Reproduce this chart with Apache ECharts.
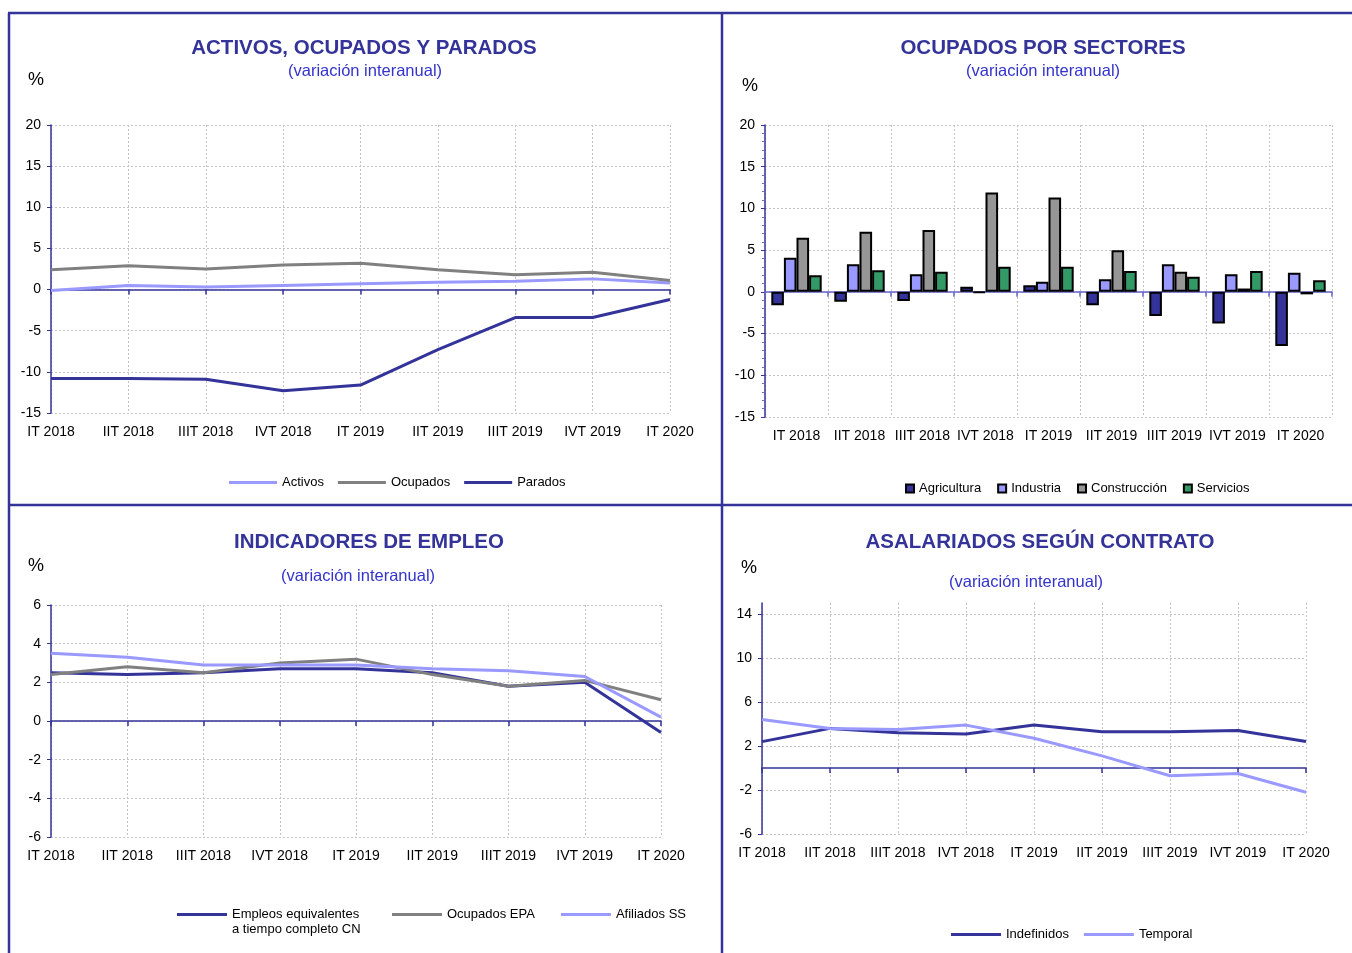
<!DOCTYPE html>
<html>
<head>
<meta charset="utf-8">
<script src="https://cdn.jsdelivr.net/npm/echarts@6/dist/echarts.min.js"></script>
<style>
html,body{margin:0;padding:0;background:#fff;}
#chart{width:1352px;height:953px;}
</style>
</head>
<body>
<div id="chart"></div>
<script>
// ---------- DATA ----------
const categories = ['IT 2018','IIT 2018','IIIT 2018','IVT 2018','IT 2019','IIT 2019','IIIT 2019','IVT 2019','IT 2020'];

// Panel 1: Activos, ocupados y parados
const activos  = [-0.1, 0.5, 0.3, 0.5, 0.7, 0.9, 1.0, 1.3, 0.8];
const ocupados = [2.4, 2.9, 2.5, 3.0, 3.2, 2.4, 1.8, 2.1, 1.1];
const parados  = [-10.8, -10.8, -10.9, -12.3, -11.6, -7.3, -3.4, -3.4, -1.2];

// Panel 2: Ocupados por sectores
const agricultura  = [-1.6, -1.2, -1.1, 0.6, 0.8, -1.6, -2.9, -3.8, -6.5];
const industria    = [4.1, 3.3, 2.1, -0.1, 1.2, 1.5, 3.3, 2.1, 2.3];
const construccion = [6.5, 7.2, 7.4, 11.9, 11.3, 5.0, 2.4, 0.4, -0.3];
const servicios    = [2.0, 2.6, 2.4, 3.0, 3.0, 2.5, 1.8, 2.5, 1.4];

// Panel 3: Indicadores de empleo
const empleosCN   = [2.5, 2.4, 2.5, 2.7, 2.7, 2.5, 1.8, 2.0, -0.6];
const ocupadosEPA = [2.4, 2.8, 2.5, 3.0, 3.2, 2.4, 1.8, 2.1, 1.1];
const afiliadosSS = [3.5, 3.3, 2.9, 2.9, 2.9, 2.7, 2.6, 2.3, 0.2];

// Panel 4: Asalariados según contrato
const indefinidos = [2.4, 3.6, 3.2, 3.1, 3.9, 3.3, 3.3, 3.4, 2.4];
const temporal    = [4.4, 3.6, 3.5, 3.9, 2.7, 1.1, -0.7, -0.5, -2.2];

// ---------- STYLE ----------
const FONT = '"Liberation Sans", Arial, sans-serif';
const DARK = '#333399', LIGHT = '#9999FF', GREY = '#808080';
const gridLine = {show:true, lineStyle:{color:'#c4c4c4', type:[2,2], width:1}};

function mainX(g, gap){
  return {type:'category', gridIndex:g, data:categories, boundaryGap:gap, position:'bottom',
    axisLine:{show:false, onZero:false}, axisTick:{show:false},
    axisLabel:{interval:0, fontSize:14, color:'#000', margin:12, fontFamily:FONT},
    splitLine:Object.assign({interval:0}, gridLine)};
}
function zeroX(g, gap, color){
  return {type:'category', gridIndex:g, data:categories, boundaryGap:gap, position:'top',
    axisLine:{show:true, onZero:true, lineStyle:{color:color, width:1.5}},
    axisTick:{show:true, inside:true, length:5, interval:0, lineStyle:{color:color, width:1.5}},
    axisLabel:{show:false}, splitLine:{show:false}};
}
function valY(g, min, max, interval, extra){
  return Object.assign({type:'value', gridIndex:g, min:min, max:max, interval:interval,
    axisLine:{show:true, onZero:false, lineStyle:{color:DARK, width:1.5}},
    axisTick:{show:true, length:4, lineStyle:{color:DARK}},
    axisLabel:{fontSize:14, color:'#000', margin:10, fontFamily:FONT},
    splitLine:gridLine}, extra||{});
}
function lineS(name, data, color, xi, yi){
  return {type:'line', name:name, data:data, xAxisIndex:xi, yAxisIndex:yi,
    symbol:'none', lineStyle:{color:color, width:3}, itemStyle:{color:color}, z:3};
}
function barS(name, data, color){
  return {type:'bar', name:name, data:data, xAxisIndex:2, yAxisIndex:1,
    barGap:'0%', barCategoryGap:'20%',
    itemStyle:{color:color, borderColor:'#000', borderWidth:2}};
}
function txt(x, y, text, font, fill){
  return {type:'text', x:x, y:y, z:10,
    style:{text:text, font:font, fill:fill, align:'center', verticalAlign:'middle'}};
}
function ln(x1,y1,x2,y2,w){
  return {type:'line', z:10, shape:{x1:x1,y1:y1,x2:x2,y2:y2}, style:{stroke:DARK, lineWidth:w}};
}
const TITLE_FONT = 'bold 20.5px ' + FONT;
const SUB_FONT = '16.5px ' + FONT;
const PCT_FONT = '18px ' + FONT;
const SUBC = '#3333CC';
const legText = {fontSize:13, color:'#000', fontFamily:FONT};

const chart = echarts.init(document.getElementById('chart'), null, {renderer:'canvas'});
chart.setOption({
  animation:false,
  backgroundColor:'#fff',
  grid:[
    {left:51, top:125, width:619, height:288},
    {left:765, top:125, width:567, height:292},
    {left:51, top:605, width:610, height:232},
    {left:762, top:603, width:544, height:231}
  ],
  xAxis:[
    mainX(0,false), zeroX(0,false,DARK),
    mainX(1,true),  zeroX(1,true,'#6666CC'),
    mainX(2,false), zeroX(2,false,DARK),
    mainX(3,false), zeroX(3,false,DARK)
  ],
  yAxis:[
    valY(0,-15,20,5),
    valY(1,-15,20,5,{minorTick:{show:true, splitNumber:5, length:3, lineStyle:{color:'#6666CC'}}}),
    valY(2,-6,6,2),
    valY(3,-6,15,4,{axisLabel:{fontSize:14, color:'#000', margin:10, fontFamily:FONT, showMaxLabel:false},
      axisTick:{show:true, length:4, lineStyle:{color:DARK}},
      splitLine:{show:true, showMaxLine:false, lineStyle:{color:'#c4c4c4', type:[2,2], width:1}}})
  ],
  legend:[
    {data:['Activos','Ocupados','Parados'], left:224, top:471, icon:'rect', itemWidth:48, itemHeight:3, itemGap:14, textStyle:legText},
    {data:['Agricultura','Industria','Construcción','Servicios'], left:900, top:477, icon:'rect', itemWidth:8, itemHeight:8, itemGap:16, textStyle:legText},
    {data:['Empleos equivalentes a tiempo completo CN'], left:172, top:887, icon:'rect', itemWidth:50, itemHeight:3,
      formatter:function(){return ' \nEmpleos equivalentes\na tiempo completo CN';},
      textStyle:Object.assign({lineHeight:15}, legText)},
    {data:['Ocupados EPA','Afiliados SS'], left:387, top:903, icon:'rect', itemWidth:50, itemHeight:3, itemGap:26, textStyle:legText},
    {data:['Indefinidos','Temporal'], left:946, top:923, icon:'rect', itemWidth:50, itemHeight:3, itemGap:15, textStyle:legText}
  ],
  series:[
    lineS('Activos', activos, LIGHT, 0, 0),
    lineS('Ocupados', ocupados, GREY, 0, 0),
    lineS('Parados', parados, DARK, 0, 0),
    barS('Agricultura', agricultura, '#333399'),
    barS('Industria', industria, '#9999FF'),
    barS('Construcción', construccion, '#969696'),
    barS('Servicios', servicios, '#339966'),
    lineS('Empleos equivalentes a tiempo completo CN', empleosCN, DARK, 4, 2),
    lineS('Ocupados EPA', ocupadosEPA, GREY, 4, 2),
    lineS('Afiliados SS', afiliadosSS, LIGHT, 4, 2),
    lineS('Indefinidos', indefinidos, DARK, 6, 3),
    lineS('Temporal', temporal, LIGHT, 6, 3)
  ],
  graphic:[
    ln(8,13,1352,13,2.5), ln(9,13,9,953,2.5), ln(722,13,722,953,2.5), ln(8,505,1352,505,2.5),
    txt(364,48,'ACTIVOS, OCUPADOS Y PARADOS',TITLE_FONT,DARK),
    txt(365,71,'(variación interanual)',SUB_FONT,SUBC),
    txt(36,80,'%',PCT_FONT,'#000'),
    txt(1043,48,'OCUPADOS POR SECTORES',TITLE_FONT,DARK),
    txt(1043,71,'(variación interanual)',SUB_FONT,SUBC),
    txt(750,86,'%',PCT_FONT,'#000'),
    txt(369,542,'INDICADORES DE EMPLEO',TITLE_FONT,DARK),
    txt(358,576,'(variación interanual)',SUB_FONT,SUBC),
    txt(36,566,'%',PCT_FONT,'#000'),
    txt(1040,542,'ASALARIADOS SEGÚN CONTRATO',TITLE_FONT,DARK),
    txt(1026,582,'(variación interanual)',SUB_FONT,SUBC),
    txt(749,568,'%',PCT_FONT,'#000')
  ]
});
</script>
</body>
</html>
